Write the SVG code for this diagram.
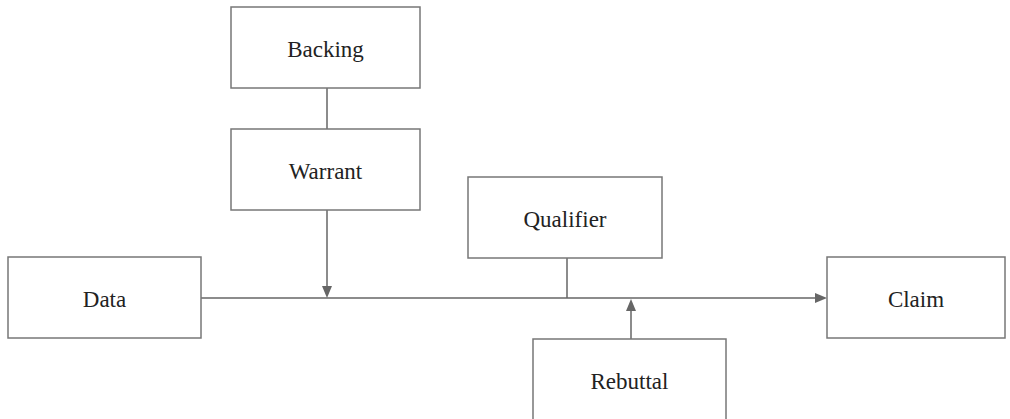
<svg xmlns="http://www.w3.org/2000/svg" width="1010" height="419" viewBox="0 0 1010 419">
<defs>
<style>
.box{fill:#ffffff;stroke:#777777;stroke-width:1.5}
.lbl{font-family:"Liberation Serif","Times New Roman",serif;font-size:23px;fill:#222222;text-anchor:middle}
.edge{fill:none;stroke:#666666;stroke-width:1.5}
.head{fill:#666666}
</style>
</defs>
<rect width="1010" height="419" fill="#ffffff"/>
<g id="connectors">
<line class="edge" x1="327" y1="88" x2="327" y2="129"/>
<line class="edge" x1="327" y1="210" x2="327" y2="290"/>
<line class="edge" x1="201" y1="298" x2="816" y2="298"/>
<line class="edge" x1="567" y1="258" x2="567" y2="298"/>
<line class="edge" x1="631" y1="339" x2="631" y2="308"/>
<path class="head" d="M322,286 L327,298 L332,286 Z"/>
<path class="head" d="M815,293 L827,298 L815,303 Z"/>
<path class="head" d="M626,311 L631,299 L636,311 Z"/>
</g>
<g id="backing"><rect class="box" x="231" y="7" width="189" height="81"/><text class="lbl" x="325.5" y="57">Backing</text></g>
<g id="warrant"><rect class="box" x="231" y="129" width="189" height="81"/><text class="lbl" x="325.5" y="179">Warrant</text></g>
<g id="data"><rect class="box" x="8" y="257" width="193" height="81"/><text class="lbl" x="104.5" y="307">Data</text></g>
<g id="qualifier"><rect class="box" x="468" y="177" width="194" height="81"/><text class="lbl" x="565" y="227">Qualifier</text></g>
<g id="rebuttal"><rect class="box" x="533" y="339" width="193" height="81"/><text class="lbl" x="629.5" y="389">Rebuttal</text></g>
<g id="claim"><rect class="box" x="827" y="257" width="178" height="81"/><text class="lbl" x="916" y="307">Claim</text></g>
</svg>
